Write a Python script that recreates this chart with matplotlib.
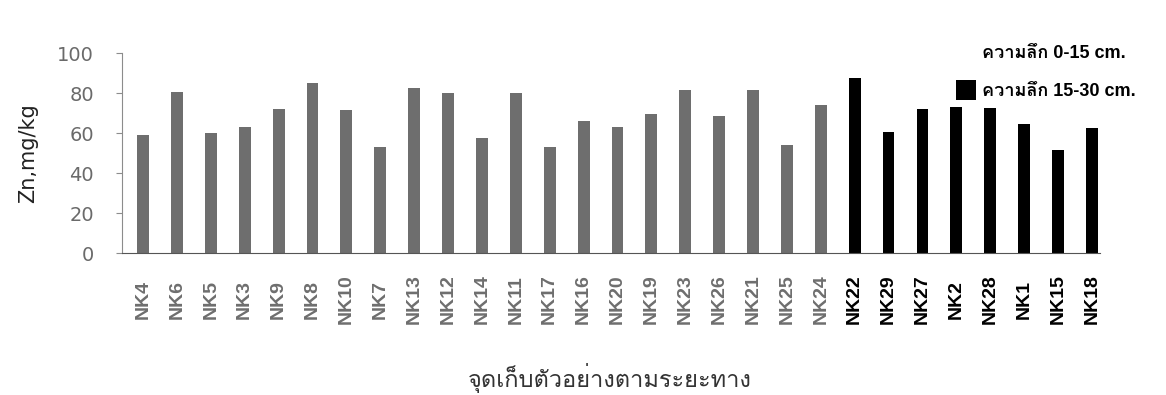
import matplotlib
matplotlib.use("Agg")
import matplotlib.pyplot as plt
from matplotlib import font_manager
from matplotlib.ft2font import FT2Font
from matplotlib.patches import Patch

# Zn content per sampling point, ordered along the sampling distance
sites_top = ["NK4", "NK6", "NK5", "NK3", "NK9", "NK8", "NK10", "NK7", "NK13", "NK12",
             "NK14", "NK11", "NK17", "NK16", "NK20", "NK19", "NK23", "NK26", "NK21",
             "NK25", "NK24"]
zn_top = [59.2, 80.8, 60.0, 63.0, 72.0, 85.3, 71.7, 53.3, 82.5, 80.0,
          57.8, 80.3, 53.3, 66.2, 63.3, 69.5, 81.7, 68.7, 81.7, 54.2, 74.2]

sites_deep = ["NK22", "NK29", "NK27", "NK2", "NK28", "NK1", "NK15", "NK18"]
zn_deep = [87.8, 60.8, 72.0, 73.3, 72.5, 64.5, 51.7, 62.8]

legend_labels = ["ความลึก 0-15 cm.", "ความลึก 15-30 cm."]
y_label = "Zn,mg/kg"
x_label = "จุดเก็บตัวอย่างตามระยะทาง"

GREY = "#6e6e6e"
AXIS = "#8c8c8c"


def find_thai_font():
    # pick any installed font that actually carries Thai glyphs
    for f in font_manager.fontManager.ttflist:
        try:
            if 0x0E01 in FT2Font(f.fname).get_charmap():
                return f.name
        except Exception:
            continue
    return None


thai = find_thai_font()
families = ["Liberation Sans"] + ([thai] if thai else []) + ["DejaVu Sans"]
plt.rcParams["font.family"] = families

fig = plt.figure(figsize=(11.66, 3.95), dpi=100, facecolor="white")
ax = fig.add_axes([0.1044, 0.3587, 0.8390, 0.5063])

n_top = len(sites_top)
x_top = list(range(n_top))
x_deep = list(range(n_top, n_top + len(sites_deep)))

bars_top = ax.bar(x_top, zn_top, width=0.35, color=GREY)
bars_deep = ax.bar(x_deep, zn_deep, width=0.35, color="black")

ax.set_xlim(-0.63, len(x_top) + len(x_deep) - 0.76)
ax.set_ylim(0, 100)
ax.set_yticks([0, 20, 40, 60, 80, 100])

for side in ["top", "right"]:
    ax.spines[side].set_visible(False)
ax.spines["left"].set_color(AXIS)
ax.spines["bottom"].set_color("#555555")
ax.tick_params(axis="y", colors=AXIS, labelcolor="#6a6a6a", length=4,
               width=0.8, pad=16)
for lbl in ax.get_yticklabels():
    lbl.set_fontfamily("DejaVu Sans")
    lbl.set_fontsize(14)
ax.tick_params(axis="x", length=0, pad=33)

ax.set_xticks(x_top + x_deep)
ax.set_xticklabels(sites_top + sites_deep, rotation=90, fontsize=14,
                   fontweight="bold", va="center")
for i, lbl in enumerate(ax.get_xticklabels()):
    lbl.set_color(GREY if i < n_top else "black")

ax.set_ylabel(y_label, fontsize=15, color="#222222", labelpad=14,
              family="DejaVu Sans")
fig.text(0.523, 0.043, x_label, ha="center", va="center", fontsize=17,
         color="#333333")

handles = [Patch(facecolor=GREY), Patch(facecolor="black")]
leg = fig.legend(handles, legend_labels, loc="upper left",
                 bbox_to_anchor=(940 / 1166, 1 - 26 / 395), frameon=False,
                 prop={"size": 13, "weight": "bold"}, labelspacing=1.0,
                 handlelength=1.1, handleheight=1.3, handletextpad=0.3)
leg.legend_handles[0].set_visible(False)

fig.savefig("out.png", dpi=100, facecolor="white")
